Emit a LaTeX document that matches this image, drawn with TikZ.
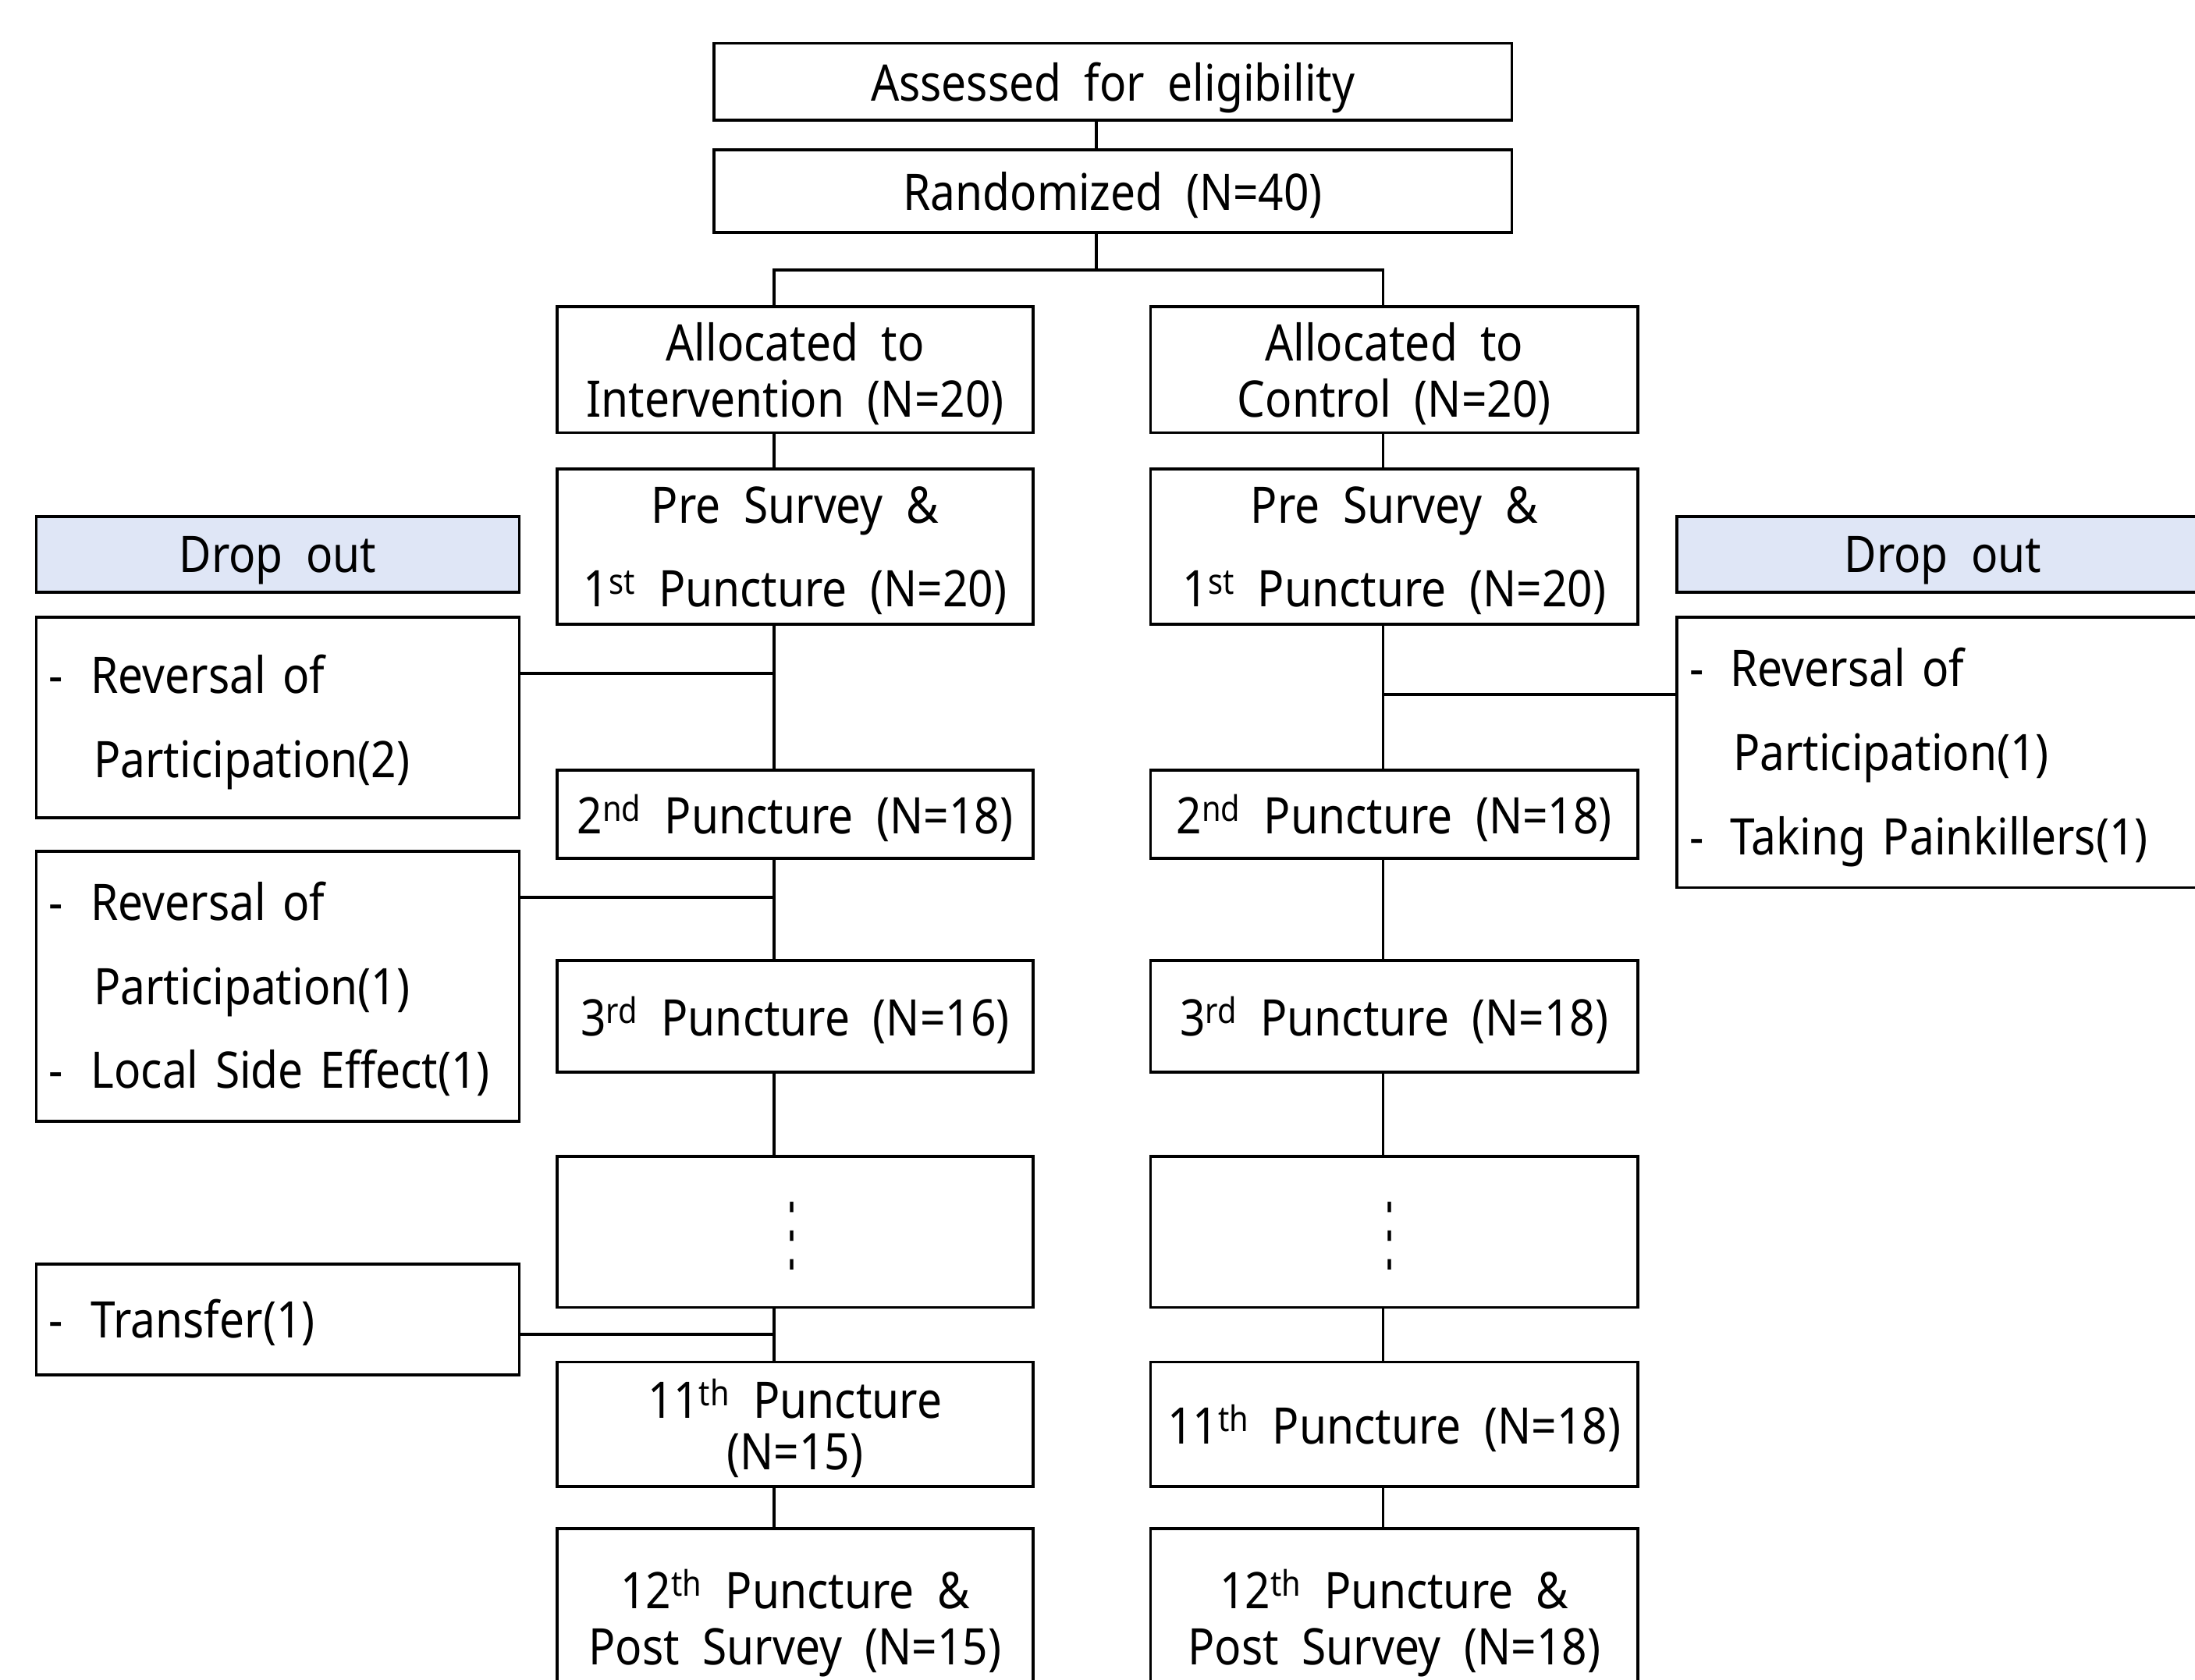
\documentclass[tikz,border=0pt]{standalone}
\usepackage{fontspec}
\setmainfont{Noto Sans}[FakeStretch=0.88,WordSpace=2]
\newfontfamily\dotsfont{DejaVu Sans}
\definecolor{dropblue}{RGB}{223,230,246}
\begin{document}
\begin{tikzpicture}[x=1pt,y=-1pt,
  every node/.style={inner sep=0pt, outer sep=0pt},
  bx/.style={draw, line width=2pt, align=center, text depth=0pt, font=\fontsize{36}{40}\selectfont},
  bxwide/.style={bx, font=\fontsize{36}{60}\selectfont},
  lbx/.style={draw, line width=2pt, align=left, text height=26pt, inner xsep=9pt, font=\fontsize{36}{60}\selectfont},
  hdr/.style={draw, line width=2pt, fill=dropblue, text depth=0pt, font=\fontsize{36}{40}\selectfont},
  conn/.style={line width=2pt}]
\useasboundingbox (0,0) rectangle (1568,1200);
\fill[white] (0,0) rectangle (1568,1200);
\clip (0,0) rectangle (1568,1200);

% main column
\node[bx, minimum width=570pt, minimum height=55pt] (assess) at (795,58.5) {Assessed for eligibility};
\node[bx, minimum width=570pt, minimum height=59pt] (rand) at (795,136.5) {Randomized (N=40)};

\node[bx, minimum width=340pt, minimum height=90pt] (allocI) at (568,264) {Allocated to\\Intervention (N=20)};
\node[bx, minimum width=348pt, minimum height=90pt] (allocC) at (996,264) {Allocated to\\Control (N=20)};

\node[bxwide, minimum width=340pt, minimum height=111pt] (preI) at (568,390.5) {Pre Survey \&\\1\textsuperscript{st} Puncture (N=20)};
\node[bxwide, minimum width=348pt, minimum height=111pt] (preC) at (996,390.5) {Pre Survey \&\\1\textsuperscript{st} Puncture (N=20)};

\node[bx, minimum width=340pt, minimum height=63pt] (p2I) at (568,581.5) {2\textsuperscript{nd} Puncture (N=18)};
\node[bx, minimum width=348pt, minimum height=63pt] (p2C) at (996,581.5) {2\textsuperscript{nd} Puncture (N=18)};

\node[bx, minimum width=340pt, minimum height=80pt] (p3I) at (568,726) {3\textsuperscript{rd} Puncture (N=16)};
\node[bx, minimum width=348pt, minimum height=80pt] (p3C) at (996,726) {3\textsuperscript{rd} Puncture (N=18)};

\node[bx, minimum width=340pt, minimum height=108pt] (dotsI) at (568,880) {};
\node[bx, minimum width=348pt, minimum height=108pt] (dotsC) at (996,880) {};
\node[font=\dotsfont\fontsize{60}{60}\selectfont] (vdI) at (566,883) {\scalebox{0.4}[1]{⋮}};
\node[font=\dotsfont\fontsize{60}{60}\selectfont] (vdC) at (993,883) {\scalebox{0.4}[1]{⋮}};

\node[bx, minimum width=340pt, minimum height=89pt, font=\fontsize{36}{37}\selectfont] (p11I) at (568,1017.5) {11\textsuperscript{th} Puncture\\(N=15)};
\node[bx, minimum width=348pt, minimum height=89pt] (p11C) at (996,1017.5) {11\textsuperscript{th} Puncture (N=18)};

\node[bx, minimum width=340pt, minimum height=126pt] (p12I) at (568,1155) {12\textsuperscript{th} Puncture \&\\Post Survey (N=15)};
\node[bx, minimum width=348pt, minimum height=126pt] (p12C) at (996,1155) {12\textsuperscript{th} Puncture \&\\Post Survey (N=18)};

% drop out
\node[hdr, minimum width=345pt, minimum height=54pt] (dropL) at (198.5,396) {Drop out};
\node[hdr, minimum width=380pt, minimum height=54pt] (dropR) at (1388,396) {Drop out};

\node[lbx, text width=327pt, text depth=60pt, minimum height=143pt] (rsnL1) at (198.5,512.5)
  {\makebox[30pt][l]{-}Reversal of\\\hspace*{32pt}Participation(2)};
\node[lbx, text width=327pt, text depth=120pt, minimum height=193pt] (rsnL2) at (198.5,704.5)
  {\makebox[30pt][l]{-}Reversal of\\\hspace*{32pt}Participation(1)\\\makebox[30pt][l]{-}Local Side Effect(1)};
\node[lbx, text width=327pt, text depth=0pt, minimum height=79pt] (rsnL3) at (198.5,942.5)
  {\makebox[30pt][l]{-}Transfer(1)};
\node[lbx, text width=362pt, text depth=120pt, minimum height=193pt] (rsnR) at (1388,537.5)
  {\makebox[29pt][l]{-}Reversal of\\\hspace*{31pt}Participation(1)\\\makebox[29pt][l]{-}Taking Painkillers(1)};

% guide coordinates
\coordinate (colM) at (783,0);
\coordinate (colL) at (553,0);
\coordinate (colR) at (988,0);
\coordinate (split) at (0,193);
\coordinate (hL1) at (0,481);
\coordinate (hL2) at (0,641);
\coordinate (hL3) at (0,953);
\coordinate (hR1) at (0,496);

% connectors
\draw[conn] (assess.south -| colM) -- (rand.north -| colM);
\draw[conn] (rand.south -| colM) -- (split -| colM);
\draw[conn] (allocI.north -| colL) -- (split -| colL) -- (split -| colR) -- (allocC.north -| colR);

\foreach \a/\b in {allocI/preI, preI/p2I, p2I/p3I, p3I/dotsI, dotsI/p11I, p11I/p12I}
  \draw[conn] (\a.south -| colL) -- (\b.north -| colL);
\foreach \a/\b in {allocC/preC, preC/p2C, p2C/p3C, p3C/dotsC, dotsC/p11C, p11C/p12C}
  \draw[conn] (\a.south -| colR) -- (\b.north -| colR);

\draw[conn] (rsnL1.east |- hL1) -- (hL1 -| colL);
\draw[conn] (rsnL2.east |- hL2) -- (hL2 -| colL);
\draw[conn] (rsnL3.east |- hL3) -- (hL3 -| colL);
\draw[conn] (rsnR.west |- hR1) -- (hR1 -| colR);
\end{tikzpicture}
\end{document}
